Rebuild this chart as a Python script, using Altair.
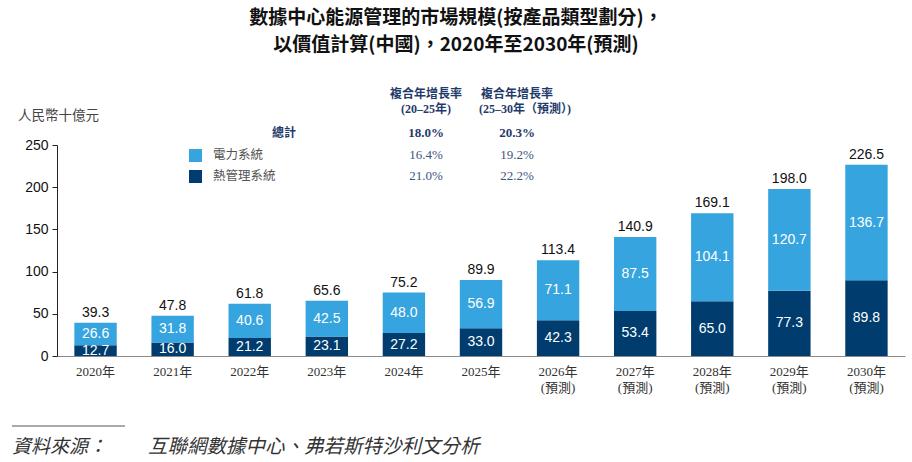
import altair as alt
import pandas as pd

# Market size of data-centre energy management in China, RMB billion
years = ["2020", "2021", "2022", "2023", "2024", "2025",
         "2026", "2027", "2028", "2029", "2030"]
power_system = [26.6, 31.8, 40.6, 42.5, 48.0, 56.9, 71.1, 87.5, 104.1, 120.7, 136.7]
thermal_system = [12.7, 16.0, 21.2, 23.1, 27.2, 33.0, 42.3, 53.4, 65.0, 77.3, 89.8]
totals = [39.3, 47.8, 61.8, 65.6, 75.2, 89.9, 113.4, 140.9, 169.1, 198.0, 226.5]
first_forecast_year = 2026
y_ticks = [0, 50, 100, 150, 200, 250]

series_names = ["電力系統", "熱管理系統"]
series_colors = ["#36a5df", "#003d6e"]

cagr_header_top = ["複合年增長率", "複合年增長率"]
cagr_header_sub = ["(20–25年)", "(25–30年（預測）)"]
cagr_total_label = "總計"
cagr_total = ["18.0%", "20.3%"]
cagr_power = ["16.4%", "19.2%"]
cagr_thermal = ["21.0%", "22.2%"]

title_lines = ["數據中心能源管理的市場規模(按產品類型劃分)，",
               "以價值計算(中國)，2020年至2030年(預測)"]
y_unit = "人民幣十億元"
source_label = "資料來源："
source_text = "互聯網數據中心、弗若斯特沙利文分析"

CJK = "Noto Sans CJK TC"
SERIF = "Liberation Serif, Noto Sans CJK TC"
SANS = "Liberation Sans, Arial, sans-serif"
NAVY_TEXT = "#1f3b6b"

df = pd.DataFrame({
    "year": years,
    "power": power_system,
    "thermal": thermal_system,
    "total": totals,
})

x_axis = alt.Axis(
    labelExpr=(f"toNumber(datum.value) >= {first_forecast_year} "
               "? [datum.value + '年', '(預測)'] : datum.value + '年'"),
    labelAngle=0, ticks=False, domainColor="#8a8a8a", domainWidth=1,
    labelFont=SERIF, labelFontSize=13, labelColor="#333333",
    labelPadding=9, labelLineHeight=16, title=None,
)
y_axis = alt.Axis(
    values=y_ticks, grid=False, tickSize=5, tickColor="#222222",
    domainColor="#222222", labelFont=SANS, labelFontSize=14,
    labelColor="#111111", labelPadding=4, title=None,
)
x_enc = alt.X("year:N", sort=years, axis=x_axis,
              scale=alt.Scale(paddingInner=0.45, paddingOuter=0.225))
y_scale = alt.Scale(domain=[0, 250], nice=False)

base = alt.Chart(df).transform_calculate(
    thermal_mid="datum.thermal / 2",
    power_mid="(datum.thermal + datum.total) / 2",
)

# stacked bars: thermal management at the bottom, power system on top
thermal_bars = base.mark_bar(color=series_colors[1]).encode(
    x=x_enc,
    y=alt.Y("thermal:Q", scale=y_scale, axis=y_axis),
)
power_bars = base.mark_bar(color=series_colors[0]).encode(
    x=x_enc,
    y=alt.Y("thermal:Q", scale=y_scale, axis=y_axis),
    y2="total:Q",
)

seg_text = dict(font=SANS, fontSize=14, color="white", baseline="middle")
thermal_labels = base.mark_text(**seg_text).encode(
    x=x_enc,
    y=alt.Y("thermal_mid:Q", scale=y_scale, axis=y_axis),
    text=alt.Text("thermal:Q", format=".1f"),
)
power_labels = base.mark_text(**seg_text).encode(
    x=x_enc,
    y=alt.Y("power_mid:Q", scale=y_scale, axis=y_axis),
    text=alt.Text("power:Q", format=".1f"),
)
total_labels = base.mark_text(font=SANS, fontSize=14, color="#111111",
                              baseline="middle", dy=-10).encode(
    x=x_enc,
    y=alt.Y("total:Q", scale=y_scale, axis=y_axis),
    text=alt.Text("total:Q", format=".1f"),
)


def note(text, x, y, **style):
    """A single piece of text placed in plot-area pixels."""
    return alt.Chart(pd.DataFrame({"t": [text]})).mark_text(**style).encode(
        x=alt.value(x), y=alt.value(y), text="t:N")


def swatch(color, x, y, size):
    return alt.Chart(pd.DataFrame({"c": [color]})).mark_rect(color=color).encode(
        x=alt.value(x), x2=alt.value(x + size),
        y=alt.value(y), y2=alt.value(y + size))


layers = [thermal_bars, power_bars, thermal_labels, power_labels, total_labels]

# two-line title
for i, line in enumerate(title_lines):
    layers.append(note(line, 399, -127 + 27 * i, font=CJK, fontSize=19,
                       fontWeight="bold", color="#111111",
                       align="center", baseline="middle"))

# unit label above the y axis
layers.append(note(y_unit, -39, -29, font=CJK, fontSize=13.5, color="#444444",
                   align="left", baseline="middle"))

# legend + CAGR table
col_x = [369, 460]
for cx, top, sub in zip(col_x, cagr_header_top, cagr_header_sub):
    layers.append(note(top, cx, -51, font=SERIF, fontSize=12, fontWeight="bold",
                       color=NAVY_TEXT, align="center", baseline="middle"))
    layers.append(note(sub, cx + (8 if "預測" in sub else 0), -36, font=SERIF,
                       fontSize=12, fontWeight="bold", color=NAVY_TEXT,
                       align="center", baseline="middle"))

layers.append(note(cagr_total_label, 227, -12, font=SERIF, fontSize=12,
                   fontWeight="bold", color=NAVY_TEXT, align="center",
                   baseline="middle"))
for cx, v in zip(col_x, cagr_total):
    layers.append(note(v, cx, -12, font=SERIF, fontSize=13, fontWeight="bold",
                       color=NAVY_TEXT, align="center", baseline="middle"))

row_y = [10, 31]
for name, color, values, ry in zip(series_names, series_colors,
                                   [cagr_power, cagr_thermal], row_y):
    layers.append(swatch(color, 132, ry - 6, 13))
    layers.append(note(name, 156, ry, font=SERIF, fontSize=12.5,
                       color="#555555", align="left", baseline="middle"))
    for cx, v in zip(col_x, values):
        layers.append(note(v, cx, ry, font=SERIF, fontSize=13,
                           color="#3b5680", align="center", baseline="middle"))

# source footnote
layers.append(alt.Chart(pd.DataFrame({"r": [0]})).mark_rule(
    color="#555555", strokeWidth=1).encode(
    x=alt.value(-45), x2=alt.value(68), y=alt.value(281)))
layers.append(note(source_label, -45, 302, font=CJK, fontSize=19,
                   fontStyle="italic", color="#333333", align="left",
                   baseline="middle"))
layers.append(note(source_text, 91, 302, font=CJK, fontSize=19.5,
                   fontStyle="italic", color="#333333", align="left",
                   baseline="middle"))

chart = alt.layer(*layers).properties(
    width=848, height=211,
    autosize=alt.AutoSizeParams(type="none"),
    padding={"left": 57, "top": 145, "right": 7, "bottom": 106},
    background="white",
).configure_view(stroke=None)

chart.save("out.html", embed_options={"renderer": "svg", "actions": False})
